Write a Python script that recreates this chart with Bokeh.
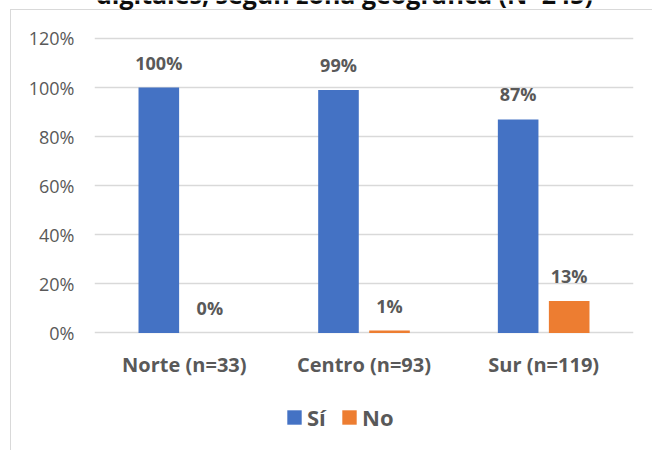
from bokeh.plotting import figure
from bokeh.models import (ColumnDataSource, FactorRange, Range1d, FixedTicker,
                          NumeralTickFormatter, Legend, LegendItem, Label)
from bokeh.transform import dodge
from bokeh.core.properties import value
from bokeh.embed import file_html
from bokeh.resources import INLINE

categories = ["Norte (n=33)", "Centro (n=93)", "Sur (n=119)"]
si_values = [1.00, 0.99, 0.87]
no_values = [0.00, 0.01, 0.13]
y_ticks = [0, 0.2, 0.4, 0.6, 0.8, 1.0, 1.2]
title_text = "digitales, según zona geográfica (N=245)"
series_names = ["Sí", "No"]

BLUE = "#4472C4"
ORANGE = "#ED7D31"
GRAY = "#595959"
GRID = "#D9D9D9"
FONT = "Open Sans"

src = ColumnDataSource(dict(
    cat=categories,
    si=si_values,
    no=no_values,
    si_lbl=[f"{v*100:.0f}%" for v in si_values],
    no_lbl=[f"{v*100:.0f}%" for v in no_values],
))

border_css = ("linear-gradient(#D9D9D9,#D9D9D9) 10px 9px / 1px 100% no-repeat, "
              "linear-gradient(#D9D9D9,#D9D9D9) 10px 9px / 100% 1px no-repeat, white")

# frame spans full height: 0% at y=332.5px, 120% at y=38px
p = figure(width=652, height=450, output_backend="svg", toolbar_location=None,
           x_range=FactorRange(factors=categories, range_padding=0),
           y_range=Range1d(-0.4788, 1.3548),
           min_border_left=94, min_border_right=19, min_border_top=0, min_border_bottom=0,
           styles={"background": border_css})
p.outline_line_color = None
p.background_fill_color = None
p.border_fill_color = None

off = 0.142
bw = 0.226
r_si = p.vbar(x=dodge("cat", -off, range=p.x_range), top="si", bottom=0, width=bw,
              source=src, fill_color=BLUE, line_color=None)
r_no = p.vbar(x=dodge("cat", off, range=p.x_range), top="no", bottom=0, width=bw,
              source=src, fill_color=ORANGE, line_color=None)

for col, lbl, o in (("si", "si_lbl", -off), ("no", "no_lbl", off)):
    p.text(x=dodge("cat", o, range=p.x_range), y=col, text=lbl, source=src,
           text_align="center", text_baseline="alphabetic", y_offset=-25,
           text_font=value(FONT), text_font_style="bold", text_font_size="18px",
           text_color=GRAY)

# axes
p.yaxis.ticker = FixedTicker(ticks=y_ticks)
p.yaxis.formatter = NumeralTickFormatter(format="0%")
p.yaxis.axis_line_color = None
p.yaxis.major_tick_line_color = None
p.yaxis.minor_tick_line_color = None
p.yaxis.major_tick_out = 0
p.yaxis.major_label_standoff = 20
p.yaxis.major_label_text_font = FONT
p.yaxis.major_label_text_font_size = "18px"
p.yaxis.major_label_text_color = GRAY

p.xaxis.fixed_location = 0
p.xaxis.axis_line_color = None
p.xaxis.major_tick_line_color = None
p.xaxis.minor_tick_line_color = None
p.xaxis.major_tick_out = 0
p.xaxis.major_tick_in = 0
p.xaxis.major_label_standoff = 18
p.xaxis.major_label_text_font = FONT
p.xaxis.major_label_text_font_size = "20px"
p.xaxis.major_label_text_font_style = "bold"
p.xaxis.major_label_text_color = GRAY

p.xgrid.grid_line_color = None
p.ygrid.grid_line_color = GRID
p.ygrid.grid_line_width = 1.5

# legend
legend = Legend(items=[LegendItem(label=series_names[0], renderers=[r_si]),
                       LegendItem(label=series_names[1], renderers=[r_no])],
                orientation="horizontal", location=(191, 18),
                glyph_width=18, glyph_height=18, label_standoff=4, spacing=13,
                padding=0, margin=0, border_line_color=None, background_fill_alpha=0,
                label_text_font=FONT, label_text_font_style="bold",
                label_text_font_size="22px", label_text_color=GRAY)
p.add_layout(legend, "center")

# title (cut at top as in the reference)
p.add_layout(Label(x=250, y=456.5, x_units="screen", y_units="screen", text=title_text,
                   text_align="center", text_baseline="alphabetic",
                   text_font=FONT, text_font_style="bold", text_font_size="25px",
                   text_color="#0D0D0D"))

open("out.html", "w").write(file_html(p, INLINE))
